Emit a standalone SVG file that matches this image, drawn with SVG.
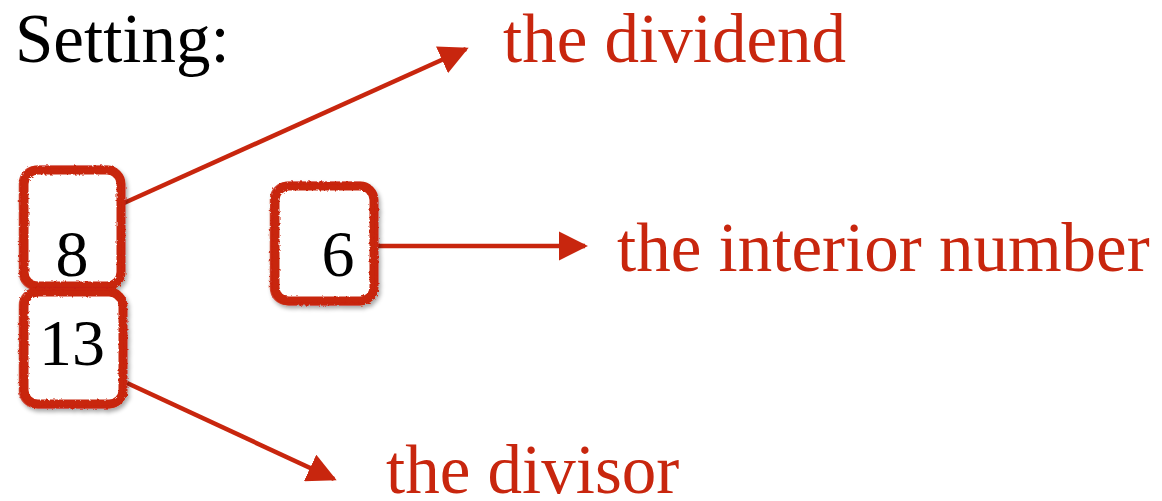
<svg xmlns="http://www.w3.org/2000/svg" width="1162" height="501" viewBox="0 0 1162 501">
<style>
.lbl{font-family:"Liberation Serif","Times New Roman",serif;font-size:69px;fill:#c8260e}
.blk{font-family:"Liberation Serif","Times New Roman",serif;fill:#000}
.box{fill:#fff;stroke:#c8260e;stroke-width:9}
.box2{fill:none;stroke:#c8260e;stroke-width:2.5;opacity:0.8}
.conn{stroke:#c8260e;stroke-width:4.5;fill:none}
</style>
<defs>
<marker id="ah" viewBox="0 0 10 10" refX="9" refY="5" markerWidth="6.5" markerHeight="6.5" markerUnits="strokeWidth" orient="auto">
<path d="M0,0 L10,5 L0,10 Z" fill="#c8260e"/>
</marker>
<filter id="rough" x="-10%" y="-10%" width="120%" height="120%">
<feTurbulence type="fractalNoise" baseFrequency="0.35" numOctaves="2" seed="3"/>
<feDisplacementMap in="SourceGraphic" scale="3"/>
</filter>
<filter id="sh" x="-10%" y="-10%" width="130%" height="130%">
<feGaussianBlur in="SourceAlpha" stdDeviation="2"/>
<feOffset dx="2" dy="3"/>
<feComponentTransfer><feFuncA type="linear" slope="0.35"/></feComponentTransfer>
<feMerge><feMergeNode/><feMergeNode in="SourceGraphic"/></feMerge>
</filter>
</defs>
<rect width="1162" height="501" fill="#fff"/>
<text class="blk" x="15" y="62" font-size="69">Setting:</text>
<g id="connectors">
<line class="conn" x1="124" y1="203" x2="466" y2="49" marker-end="url(#ah)"/>
<line class="conn" x1="378" y1="246" x2="585" y2="246" marker-end="url(#ah)"/>
<line class="conn" x1="127" y1="383" x2="334" y2="479" marker-end="url(#ah)"/>
</g>
<g id="node-8" filter="url(#sh)">
<rect class="box" x="24" y="170" width="97" height="116" rx="14" filter="url(#rough)"/>
<rect class="box2" x="20" y="167" width="103" height="122" rx="16" filter="url(#rough)"/>
<text class="blk" x="72" y="276" font-size="66" text-anchor="middle">8</text>
</g>
<g id="node-13" filter="url(#sh)">
<rect class="box" x="24" y="292" width="99" height="112" rx="14" filter="url(#rough)"/>
<rect class="box2" x="20" y="289" width="105" height="118" rx="16" filter="url(#rough)"/>
<text class="blk" x="72" y="365" font-size="66" text-anchor="middle">13</text>
</g>
<g id="node-6" filter="url(#sh)">
<rect class="box" x="275" y="186" width="99" height="115" rx="14" filter="url(#rough)"/>
<rect class="box2" x="271" y="183" width="105" height="121" rx="16" filter="url(#rough)"/>
<text class="blk" x="338" y="276" font-size="66" text-anchor="middle">6</text>
</g>
<g id="label-dividend"><text class="lbl" x="503" y="62">the dividend</text></g>
<g id="label-interior"><text class="lbl" x="617" y="271">the interior number</text></g>
<g id="label-divisor"><text class="lbl" x="386" y="493">the divisor</text></g>
</svg>
